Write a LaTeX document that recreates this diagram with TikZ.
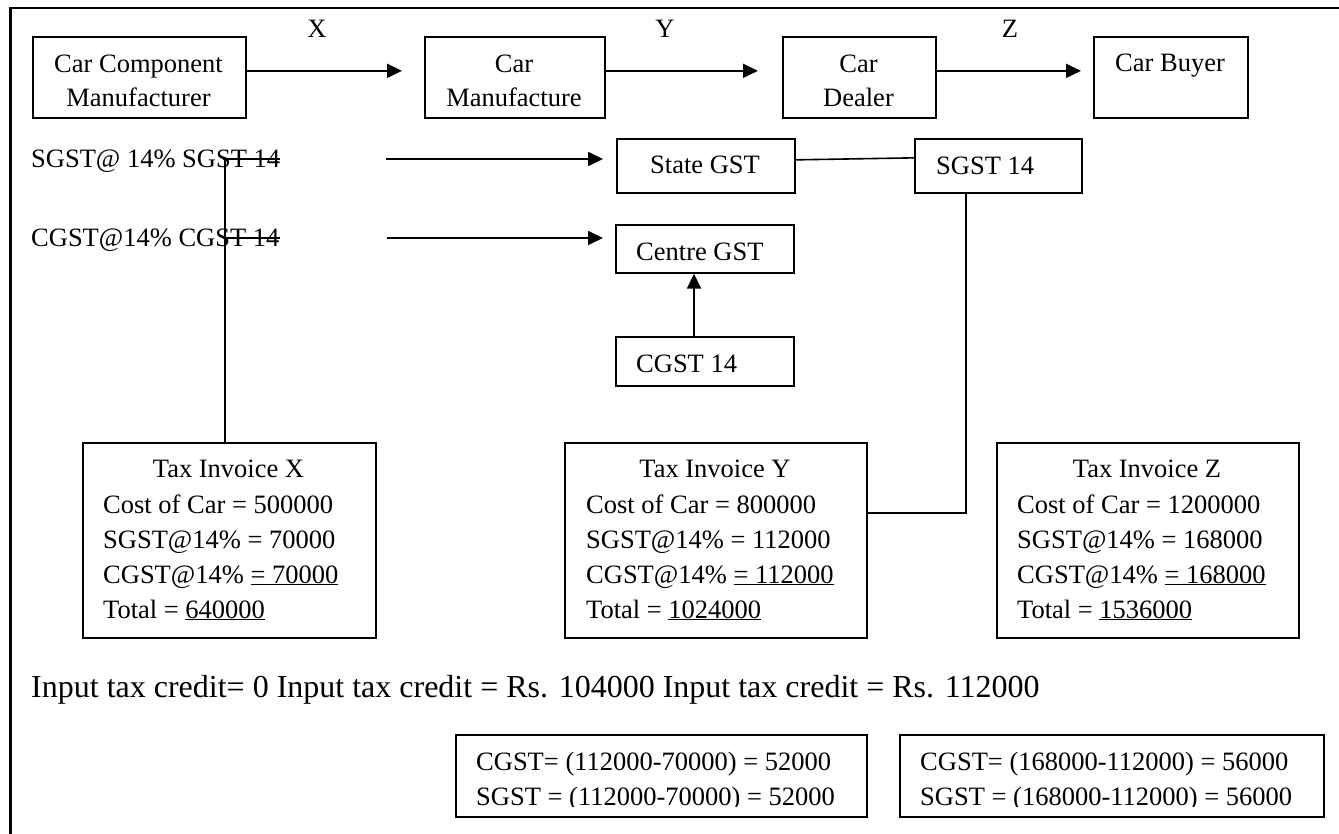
\documentclass[tikz,border=0pt]{standalone}
\usepackage{fontspec}
\setmainfont{Liberation Serif}
\usetikzlibrary{arrows.meta}
\begin{document}
\begin{tikzpicture}[x=1pt,y=-1pt]
\tikzset{
  bx/.style={draw,line width=1.7pt,inner sep=0pt,anchor=north west},
  lefttext/.style={font=\fontsize{26.5}{32}\selectfont,inner sep=0pt,anchor=base west},
  midtext/.style={font=\fontsize{26.5}{32}\selectfont,inner sep=0pt,anchor=base},
  conn/.style={line width=1.6pt},
  arr/.style={line width=1.7pt,-{Triangle[length=15pt,width=14pt]}},
}
\useasboundingbox (0,0) rectangle (1339,834);
% frame
\draw[line width=2.7pt] (1339,8) -- (10.3,8) -- (10.3,834);

% top row boxes
\node[bx,minimum width=213pt,minimum height=81pt] (ccm) at (32,36) {};
\node[bx,minimum width=180pt,minimum height=81pt] (cm) at (424,36) {};
\node[bx,minimum width=153pt,minimum height=81pt] (cd) at (782,36) {};
\node[bx,minimum width=154pt,minimum height=81pt] (cb) at (1093,36) {};
\node[midtext] (ccmA) at (138.5,73) {Car Component};
\node[midtext] (ccmB) at (138.5,107) {Manufacturer};
\node[midtext] (cmA) at (514,73) {Car};
\node[midtext] (cmB) at (514,107) {Manufacture};
\node[midtext] (cdA) at (858.5,73) {Car};
\node[midtext] (cdB) at (858.5,107) {Dealer};
\node[midtext] (cbA) at (1170,72) {Car Buyer};
\node[midtext] (lx) at (317,38) {X};
\node[midtext] (ly) at (665,38) {Y};
\node[midtext] (lz) at (1010,38) {Z};
\draw[arr,shorten >=22pt] ([yshift=6.5pt]ccm.east) -- ([yshift=6.5pt]cm.west);
\draw[arr,shorten >=24pt] ([yshift=6.5pt]cm.east) -- ([yshift=6.5pt]cd.west);
\draw[arr,shorten >=12pt] ([yshift=6.5pt]cd.east) -- ([yshift=6.5pt]cb.west);

% SGST / CGST rows
\node[lefttext] (sgtxt) at (31,168) {SGST@ 14\% SGST 14};
\node[lefttext] (cgtxt) at (31,247) {CGST@14\% CGST 14};
\node[bx,minimum width=178pt,minimum height=54pt] (stg) at (616,138) {};
\node[bx,minimum width=167pt,minimum height=54pt] (sg14) at (914,138) {};
\node[bx,minimum width=178pt,minimum height=48pt] (ctr) at (615,224) {};
\node[bx,minimum width=178pt,minimum height=49pt] (cg14) at (615,336) {};
\node[lefttext] (stgT) at (650,174) {State GST};
\node[lefttext] (sg14T) at (936,175) {SGST 14};
\node[lefttext] (ctrT) at (636,261) {Centre GST};
\node[lefttext] (cg14T) at (636,372) {CGST 14};

\coordinate (sga) at (386,159);
\coordinate (cga) at (387,238);
\draw[arr,shorten >=13pt] (sga) -- (sga -| stg.west);
\draw[arr,shorten >=12pt] (cga) -- (cga -| ctr.west);
\draw[conn] ([yshift=6pt]stg.east) -- ([yshift=8pt]sg14.west);
\coordinate (upx) at (694,300);
\draw[arr] (upx |- cg14.north) -- (upx |- ctr.south);

% strike-like segments and connector to invoice X
\coordinate (s1a) at (223,159);
\coordinate (s1b) at (280,159);
\coordinate (c1a) at (223,238);
\coordinate (c1b) at (280,238);
\coordinate (vtop) at (225,159);
\draw[conn] (s1a) -- (s1b);
\draw[conn] (c1a) -- (c1b);

% invoice boxes
\node[bx,minimum width=293pt,minimum height=195pt] (invX) at (82,442) {};
\node[bx,minimum width=302pt,minimum height=195pt] (invY) at (564,442) {};
\node[bx,minimum width=302pt,minimum height=195pt] (invZ) at (996,442) {};
\draw[conn] (vtop) -- (vtop |- invX.north);

\coordinate (bend) at (966,513);
\draw[conn] (bend |- sg14.south) -- (bend) -- (bend -| invY.east);

\node[midtext] (xT) at (228.5,477) {Tax Invoice X};
\node[lefttext] (x1) at (103,513) {Cost of Car = 500000};
\node[lefttext] (x2) at (103,548) {SGST@14\% = 70000};
\node[lefttext] (x3) at (103,583) {CGST@14\% \underline{= 70000}};
\node[lefttext] (x4) at (103,618) {Total = \underline{640000}};

\node[midtext] (yT) at (715,477) {Tax Invoice Y};
\node[lefttext] (y1) at (586,513) {Cost of Car = 800000};
\node[lefttext] (y2) at (586,548) {SGST@14\% = 112000};
\node[lefttext] (y3) at (586,583) {CGST@14\% \underline{= 112000}};
\node[lefttext] (y4) at (586,618) {Total = \underline{1024000}};

\node[midtext] (zT) at (1147,477) {Tax Invoice Z};
\node[lefttext] (z1) at (1017,513) {Cost of Car = 1200000};
\node[lefttext] (z2) at (1017,548) {SGST@14\% = 168000};
\node[lefttext] (z3) at (1017,583) {CGST@14\% \underline{= 168000}};
\node[lefttext] (z4) at (1017,618) {Total = \underline{1536000}};

% input tax credit line
\node[lefttext,font=\fontsize{32}{38}\selectfont] (itc) at (31,697)
  {Input tax credit= 0 Input tax credit = Rs. 104000 Input tax credit = Rs. 112000};

% bottom boxes
\node[bx,minimum width=411pt,minimum height=82pt] (b1) at (455,734) {};
\node[bx,minimum width=424pt,minimum height=82pt] (b2) at (899,734) {};
\begin{scope}
\clip (455,734) rectangle (1323,806);
\node[lefttext] (b1a) at (476,770) {CGST= (112000-70000) = 52000};
\node[lefttext] (b1b) at (476,805) {SGST = (112000-70000) = 52000};
\node[lefttext] (b2a) at (920,770) {CGST= (168000-112000) = 56000};
\node[lefttext] (b2b) at (920,805) {SGST = (168000-112000) = 56000};
\end{scope}
\end{tikzpicture}
\end{document}
